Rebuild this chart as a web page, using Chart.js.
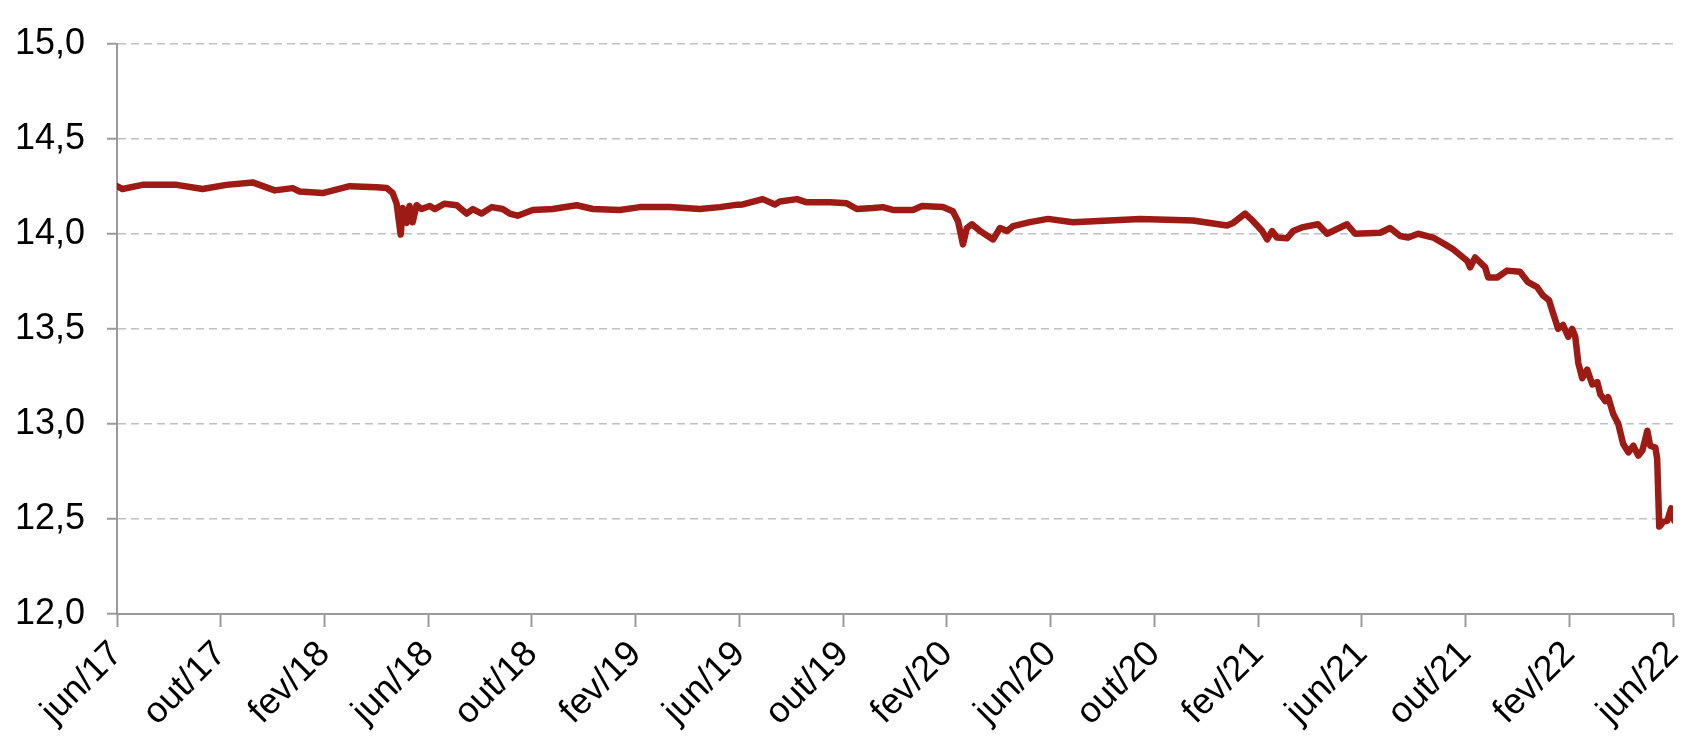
<!DOCTYPE html>
<html>
<head>
<meta charset="utf-8">
<script src="https://cdn.jsdelivr.net/npm/chart.js@4.4.1/dist/chart.umd.min.js"></script>
<style>
  html, body { margin: 0; padding: 0; background: #fff; overflow: hidden; }
  #wrap { width: 1682px; height: 736px; position: relative; }
</style>
</head>
<body>
<div id="wrap"><canvas id="myChart"></canvas></div>
<script>
// tick labels, one every 4 months starting jun/17
const monthLabels = ['jun/17', 'out/17', 'fev/18', 'jun/18', 'out/18', 'fev/19', 'jun/19', 'out/19',
    'fev/20', 'jun/20', 'out/20', 'fev/21', 'jun/21', 'out/21', 'fev/22', 'jun/22'];

// position of each reading, in months since jun/17
const months = [
    0, 0.21, 0.98, 2.30, 3.30, 4.22, 5.23, 6.08, 6.77, 7.04, 7.93, 8.97, 10.01, 10.40, 10.63, 10.78,
    10.94, 11.02, 11.17, 11.28, 11.40, 11.55, 11.75, 12.06, 12.25, 12.63, 13.10, 13.48, 13.72, 14.06,
    14.45, 14.87, 15.14, 15.45, 16.03, 16.80, 17.73, 18.35, 19.39, 20.16, 21.32, 22.47, 23.24, 23.94,
    24.13, 24.90, 25.37, 25.56, 26.22, 26.60, 27.49, 28.14, 28.53, 29.15, 29.53, 29.92, 30.69, 31.04,
    31.85, 32.23, 32.43, 32.62, 32.77, 32.97, 33.28, 33.78, 34.05, 34.32, 34.55, 35.20, 35.90,
    36.86, 39.45, 41.49, 42.80, 43.04, 43.50, 43.81, 44.16, 44.35, 44.54, 44.73, 45.12, 45.35, 45.74,
    46.31, 46.66, 47.43, 47.74, 48.71, 49.09, 49.48, 49.79, 50.17, 50.75, 51.21, 51.52, 52.06, 52.18,
    52.37, 52.76, 52.87, 53.22, 53.60, 54.10, 54.41, 54.76, 54.99, 55.22, 55.38, 55.57, 55.76, 55.96,
    56.11, 56.23, 56.35, 56.50, 56.69, 56.89, 57.08, 57.20, 57.39, 57.50, 57.70, 57.89, 58.08, 58.28,
    58.47, 58.66, 58.82, 59.01, 59.12, 59.32, 59.39, 59.47, 59.63, 59.78, 59.93, 60.05
];

const values = [
    14.25, 14.235, 14.257, 14.257, 14.235, 14.257, 14.27, 14.228, 14.24, 14.222, 14.214, 14.25, 14.245, 14.24, 14.214, 14.16,
    13.996, 14.135, 14.057, 14.146, 14.06, 14.15, 14.13, 14.146, 14.13, 14.158, 14.15, 14.106, 14.13, 14.106,
    14.14, 14.13, 14.106, 14.095, 14.125, 14.13, 14.15, 14.13, 14.125, 14.14, 14.14, 14.13, 14.14, 14.153,
    14.154, 14.182, 14.154, 14.17, 14.182, 14.165, 14.165, 14.16, 14.13, 14.135, 14.14, 14.125, 14.125, 14.146,
    14.14, 14.118, 14.066, 13.944, 14.03, 14.05, 14.014, 13.97, 14.03, 14.014, 14.04, 14.061, 14.078,
    14.06, 14.078, 14.07, 14.043, 14.057, 14.106, 14.066, 14.014, 13.97, 14.014, 13.98, 13.976, 14.014, 14.035,
    14.05, 14.0, 14.05, 14.0, 14.005, 14.03, 13.988, 13.98, 14.0, 13.98, 13.944, 13.918, 13.858, 13.823,
    13.875, 13.823, 13.77, 13.77, 13.806, 13.8, 13.745, 13.719, 13.675, 13.65, 13.58, 13.5, 13.52, 13.458,
    13.5, 13.46, 13.319, 13.24, 13.285, 13.207, 13.22, 13.155, 13.12, 13.14, 13.05, 13.0, 12.894, 12.85,
    12.885, 12.833, 12.86, 12.964, 12.885, 12.875, 12.816, 12.46, 12.486, 12.49, 12.556, 12.49
];

const points = months.map((m, i) => ({ x: m, y: values[i] }));

Chart.defaults.font.family = '"Liberation Sans", Arial, sans-serif';
Chart.defaults.color = '#000';

const ctx = document.getElementById('myChart');
const myChart = new Chart(ctx, {
    type: 'line',
    data: {
        datasets: [{
            data: points,
            borderColor: '#9E1A14',
            borderWidth: 6.5,
            borderJoinStyle: 'round',
            borderCapStyle: 'round',
            pointRadius: 0,
            tension: 0,
            fill: false
        }]
    },
    options: {
        responsive: true,
        maintainAspectRatio: false,
        animation: false,
        layout: { padding: { top: 39, right: 9, left: 0, bottom: 0 } },
        plugins: {
            legend: { display: false },
            tooltip: { enabled: false }
        },
        scales: {
            x: {
                type: 'linear',
                min: 0,
                max: 60,
                afterFit: (scale) => {
                    scale.height = 122;
                    scale.paddingLeft = 0;
                    scale.paddingRight = 0;
                },
                grid: {
                    drawOnChartArea: false,
                    drawTicks: true,
                    tickLength: 13,
                    tickColor: '#9a9a9a',
                    tickWidth: 2
                },
                border: { color: '#9a9a9a', width: 2 },
                ticks: {
                    stepSize: 4,
                    autoSkip: false,
                    minRotation: 45,
                    maxRotation: 45,
                    padding: 6,
                    font: { size: 36 },
                    callback: (v) => monthLabels[Math.round(v / 4)]
                }
            },
            y: {
                min: 12,
                max: 15,
                afterFit: (scale) => { scale.width = 117; },
                grid: {
                    color: '#c0c0c0',
                    lineWidth: 1.5,
                    tickLength: 10,
                    tickColor: '#9a9a9a',
                    tickWidth: 2
                },
                border: { color: '#9a9a9a', width: 2, dash: [8, 5] },
                ticks: {
                    stepSize: 0.5,
                    padding: 22,
                    font: { size: 36 },
                    callback: (v) => v.toFixed(1).replace('.', ',')
                }
            }
        }
    }
});
</script>
</body>
</html>
